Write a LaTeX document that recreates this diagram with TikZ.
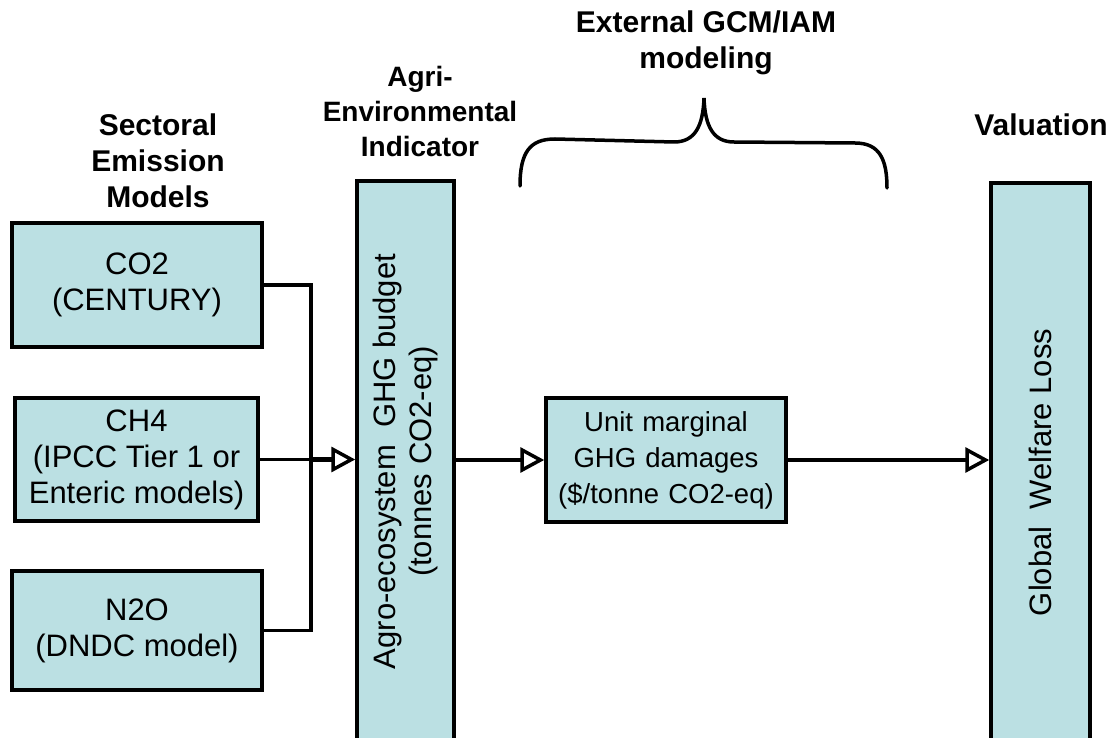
\documentclass[tikz,border=0pt]{standalone}
\usepackage{fontspec}
\setmainfont{Liberation Sans}
\usetikzlibrary{arrows.meta}
\definecolor{boxfill}{RGB}{187,224,227}
\begin{document}
\begin{tikzpicture}[x=1pt,y=-1pt,
  box/.style={draw=black, line width=3.5pt, fill=boxfill, inner sep=0pt,
              font=\fontsize{31}{36}\selectfont, align=center},
  title/.style={font=\fontsize{30}{36}\selectfont\bfseries, align=center, inner sep=0pt},
  conn/.style={line width=3.5pt},
  arr/.style={line width=3.5pt, -{Triangle[open, length=24pt, width=25pt, line width=3.5pt]}}
]
\useasboundingbox (0,0) rectangle (1117,738);
\clip (0,0) rectangle (1117,738);

% titles
\node[title] (tsec) at (158,161) {Sectoral\\Emission\\Models};
\node[title, font=\fontsize{28}{35}\selectfont\bfseries] (tagri) at (420,111) {Agri-\\Environmental\\Indicator};
\node[title] (text) at (706,43) {External GCM/IAM\\modeling};
\node[title, anchor=base] (tval) at (1041,136) {Valuation};

% boxes
\node[box, minimum width=250pt, minimum height=124pt] (co2) at (137,285) {CO2\\(CENTURY)};
\node[box, minimum width=243pt, minimum height=123pt] (ch4) at (136.5,459.5) {CH4\\(IPCC Tier 1 or\\Enteric models)};
\node[box, minimum width=250pt, minimum height=119pt] (n2o) at (137,630.5) {N2O\\(DNDC model)};
\node[box, rotate=90, minimum width=561pt, minimum height=97pt] (agro) at (405.5,461.5)
  {Agro-ecosystem\ \ GHG budget\\(tonnes CO2-eq)};
\node[box, font=\fontsize{27.5}{36}\selectfont, text width=240pt, minimum height=124pt] (unit) at (666,460)
  {Unit marginal\\GHG damages\\(\$/tonne CO2-eq)};
\node[box, rotate=90, minimum width=559pt, minimum height=99pt] (glob) at (1040.5,462.5)
  {Global\ \ Welfare Loss\hspace*{20pt}};

% connectors
\draw[conn] (co2.east) -- ++(47,0) coordinate (bt) -- (bt |- n2o.east) coordinate (bb) -- (n2o.east);
\coordinate (bm) at (bt |- ch4.east);
\draw[conn] (ch4.east) -- (bm);
\draw[arr, line width=5pt] (bm) -- (bm -| agro.north);
\draw[arr] (unit.west -| agro.south) -- (unit.west);
\draw[arr] (unit.east) -- (unit.east -| glob.north);

% brace
\coordinate (bl) at (520,186);
\coordinate (btip) at (704,98);
\coordinate (br) at (887,188);
\draw[line width=3.5pt, line cap=round]
  (bl) .. controls (520,152) and (530,139) .. (555,139) -- (674,142)
  .. controls (695,142) and (703,126) .. (btip)
  .. controls (705,126) and (713,142) .. (734,142) -- (855,143)
  .. controls (880,143) and (887,160) .. (br);
\end{tikzpicture}
\end{document}
